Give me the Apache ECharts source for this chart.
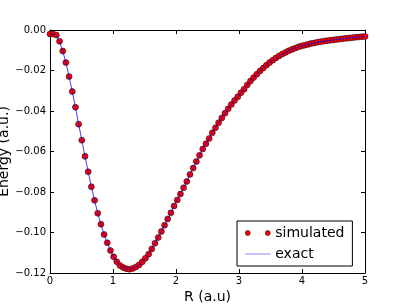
<!DOCTYPE html>
<html>
<head>
<meta charset="utf-8">
<script src="https://cdn.jsdelivr.net/npm/echarts@6/dist/echarts.min.js"></script>
<style>html,body{margin:0;padding:0;background:#fff}#c{width:406px;height:305px}</style>
</head>
<body>
<div id="c"></div>
<script>
// R values (a.u.)
var rValues = [0, 0.0505, 0.1010, 0.1515, 0.2020, 0.2525, 0.3030, 0.3535, 0.4040, 0.4545,
  0.5051, 0.5556, 0.6061, 0.6566, 0.7071, 0.7576, 0.8081, 0.8586, 0.9091, 0.9596,
  1.0101, 1.0606, 1.1111, 1.1616, 1.2121, 1.2626, 1.3131, 1.3636, 1.4141, 1.4646,
  1.5152, 1.5657, 1.6162, 1.6667, 1.7172, 1.7677, 1.8182, 1.8687, 1.9192, 1.9697,
  2.0202, 2.0707, 2.1212, 2.1717, 2.2222, 2.2727, 2.3232, 2.3737, 2.4242, 2.4747,
  2.5253, 2.5758, 2.6263, 2.6768, 2.7273, 2.7778, 2.8283, 2.8788, 2.9293, 2.9798,
  3.0303, 3.0808, 3.1313, 3.1818, 3.2323, 3.2828, 3.3333, 3.3838, 3.4343, 3.4848,
  3.5354, 3.5859, 3.6364, 3.6869, 3.7374, 3.7879, 3.8384, 3.8889, 3.9394, 3.9899,
  4.0404, 4.0909, 4.1414, 4.1919, 4.2424, 4.2929, 4.3434, 4.3939, 4.4444, 4.4949,
  4.5455, 4.5960, 4.6465, 4.6970, 4.7475, 4.7980, 4.8485, 4.8990, 4.9495, 5.0];
// simulated energies (a.u.)
var simulated = [-0.0020, -0.0020, -0.0025, -0.0056, -0.0104, -0.0161, -0.0230, -0.0304, -0.0381, -0.0465,
  -0.0544, -0.0624, -0.0700, -0.0774, -0.0841, -0.0905, -0.0959, -0.1010, -0.1051, -0.1089,
  -0.1120, -0.1145, -0.1163, -0.1173, -0.1179, -0.1181, -0.1178, -0.1170, -0.1160, -0.1145,
  -0.1127, -0.1107, -0.1081, -0.1053, -0.1025, -0.0995, -0.0964, -0.0933, -0.0903, -0.0869,
  -0.0839, -0.0810, -0.0779, -0.0748, -0.0713, -0.0682, -0.0649, -0.0619, -0.0588, -0.0562,
  -0.0536, -0.0508, -0.0483, -0.0458, -0.0434, -0.0411, -0.0389, -0.0368, -0.0348, -0.0330,
  -0.0310, -0.0292, -0.0271, -0.0252, -0.0235, -0.0218, -0.0202, -0.0188, -0.0174, -0.0161,
  -0.0149, -0.0138, -0.0128, -0.0119, -0.0111, -0.0103, -0.0096, -0.0090, -0.0084, -0.0079,
  -0.0075, -0.0071, -0.0067, -0.0064, -0.0061, -0.0058, -0.0055, -0.0053, -0.0051, -0.0049,
  -0.0047, -0.0045, -0.0043, -0.0041, -0.0040, -0.0038, -0.0036, -0.0035, -0.0033, -0.0032];
// exact energies (a.u.)
var exact = simulated.slice();
var xTicks = [0, 1, 2, 3, 4, 5];
var yTicks = [-0.12, -0.10, -0.08, -0.06, -0.04, -0.02, 0.00];

var simData = rValues.map(function (r, i) { return [r, simulated[i]]; });
var exactData = rValues.map(function (r, i) { return [r, exact[i]]; });

var FONT = 'DejaVu Sans';
function fmtY(v) { return v.toFixed(2).replace('-', '\u2212'); }
var tickStyle = { show: true, inside: true, length: 4, lineStyle: { color: '#000', width: 1 } };
var lineStyle = { show: true, onZero: false, lineStyle: { color: '#000', width: 1 } };

var chart = echarts.init(document.getElementById('c'), null, { renderer: 'canvas' });
chart.setOption({
  animation: false,
  backgroundColor: '#fff',
  grid: { left: 50, right: 41, top: 30, bottom: 32, containLabel: false, outerBoundsMode: 'none' },
  legend: {
    left: 237, top: 221, orient: 'vertical',
    padding: [4, 8, 4, 8], itemGap: 5, itemWidth: 25, itemHeight: 5, itemTextGap: 13,
    borderColor: '#000', borderWidth: 1, backgroundColor: '#fff',
    textStyle: { fontFamily: FONT, fontSize: 14, color: '#000', lineHeight: 16 },
    data: [
      { name: 'simulated', icon: 'path://M0,2.5a2.5,2.5 0 1,0 5,0a2.5,2.5 0 1,0 -5,0M20,2.5a2.5,2.5 0 1,0 5,0a2.5,2.5 0 1,0 -5,0',
        itemStyle: { color: 'red', borderColor: '#000', borderWidth: 0.5 } },
      { name: 'exact', icon: 'path://M0,0h0.01v0.01h-0.01zM0,1.9h25v1.2h-25zM24.99,4.99h0.01v0.01h-0.01z',
        itemStyle: { color: '#8c8cff', borderWidth: 0 } }
    ]
  },
  xAxis: [{
    type: 'value', min: 0, max: 5, interval: 1,
    name: 'R (a.u)', nameLocation: 'middle', nameGap: 17, nameMoveOverlap: false,
    nameTextStyle: { fontFamily: FONT, fontSize: 14, color: '#000' },
    axisLine: lineStyle, axisTick: tickStyle, splitLine: { show: false },
    axisLabel: { fontFamily: FONT, fontSize: 10, color: '#000', margin: 3,
      formatter: function (v) { return xTicks.indexOf(v) >= 0 ? String(v) : ''; } }
  }, {
    type: 'value', min: 0, max: 5, interval: 1, position: 'top',
    axisLine: lineStyle, axisTick: tickStyle, splitLine: { show: false }, axisLabel: { show: false }
  }],
  yAxis: [{
    type: 'value', min: -0.12, max: 0, interval: 0.02,
    name: 'Energy (a.u.)', nameLocation: 'middle', nameGap: 39, nameMoveOverlap: false,
    nameTextStyle: { fontFamily: FONT, fontSize: 14, color: '#000' },
    axisLine: lineStyle, axisTick: tickStyle, splitLine: { show: false },
    axisLabel: { fontFamily: FONT, fontSize: 10, color: '#000', margin: 4,
      formatter: function (v) {
        var m = yTicks.some(function (t) { return Math.abs(t - v) < 1e-9; });
        return m ? fmtY(v) : '';
      } }
  }, {
    type: 'value', min: -0.12, max: 0, interval: 0.02, position: 'right',
    axisLine: lineStyle, axisTick: tickStyle, splitLine: { show: false }, axisLabel: { show: false }
  }],
  series: [{
    name: 'simulated', type: 'scatter', data: simData,
    symbol: 'circle', symbolSize: 6,
    itemStyle: { color: 'red', borderColor: '#000', borderWidth: 0.5, opacity: 1 }
  }, {
    name: 'exact', type: 'line', data: exactData,
    showSymbol: false, symbol: 'none',
    lineStyle: { color: 'rgba(0,0,255,0.75)', width: 1 },
    itemStyle: { color: '#8c8cff' }
  }]
});
</script>
</body>
</html>
